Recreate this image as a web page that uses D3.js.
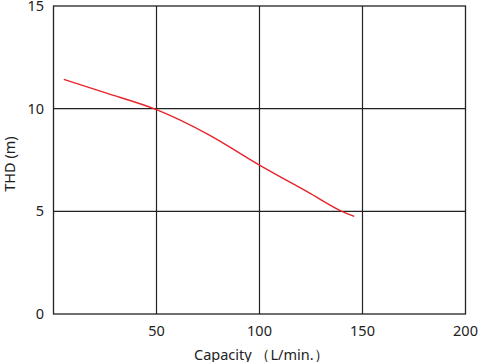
<!DOCTYPE html>
<html>
<head>
<meta charset="utf-8">
<script src="https://cdn.jsdelivr.net/npm/d3@7"></script>
<style>
  body { margin: 0; background: #fff; }
  text { font-family: "Noto Sans", sans-serif; fill: #222; }
</style>
</head>
<body>
<svg id="chart" width="478" height="362"></svg>
<script>
// curve
const capacity = [5, 25, 50, 75, 100, 125, 140, 146];
const thd = [11.43, 10.78, 9.95, 8.75, 7.25, 5.85, 5.0, 4.75];
const xTicks = [50, 100, 150, 200];
const yTicks = [0, 5, 10, 15];

const svg = d3.select("#chart");
const plotL = 53.5, plotR = 465.5, plotT = 6, plotB = 314;

const x = d3.scaleLinear().domain([0, 200]).range([plotL, plotR]);
const y = d3.scaleLinear().domain([0, 15]).range([plotB, plotT]);

// grid
svg.selectAll("line.gx")
    .data([50, 100, 150])
    .enter().append("line")
    .attr("x1", d => x(d)).attr("x2", d => x(d))
    .attr("y1", plotT).attr("y2", plotB)
    .attr("stroke", "#222").attr("stroke-width", 1.2);

svg.selectAll("line.gy")
    .data([5, 10])
    .enter().append("line")
    .attr("x1", plotL).attr("x2", plotR)
    .attr("y1", d => y(d)).attr("y2", d => y(d))
    .attr("stroke", "#222").attr("stroke-width", 1.2);

svg.append("rect")
    .attr("x", plotL).attr("y", plotT)
    .attr("width", plotR - plotL).attr("height", plotB - plotT)
    .attr("fill", "none").attr("stroke", "#222").attr("stroke-width", 1.3);

// tick labels
svg.selectAll("text.xt")
    .data(xTicks)
    .enter().append("text")
    .attr("x", d => x(d)).attr("y", 336)
    .attr("text-anchor", "middle")
    .attr("font-size", 14.5)
    .text(d => d);

svg.selectAll("text.yt")
    .data(yTicks)
    .enter().append("text")
    .attr("x", 44).attr("y", d => y(d) + 5)
    .attr("text-anchor", "end")
    .attr("font-size", 14.5)
    .text(d => d);

// axis titles
svg.append("text")
    .attr("x", 194).attr("y", 360)
    .attr("font-size", 14.5)
    .text("Capacity （L/min.）");

svg.append("text")
    .attr("transform", "translate(15,164) rotate(-90)")
    .attr("text-anchor", "middle")
    .attr("font-size", 14.5)
    .text("THD (m)");

// curve
const line = d3.line()
    .x((d, i) => x(capacity[i]))
    .y(d => y(d))
    .curve(d3.curveMonotoneX);

svg.append("path")
    .attr("d", line(thd))
    .attr("fill", "none")
    .attr("stroke", "#e8232b")
    .attr("stroke-width", 1.4);
</script>
</body>
</html>
